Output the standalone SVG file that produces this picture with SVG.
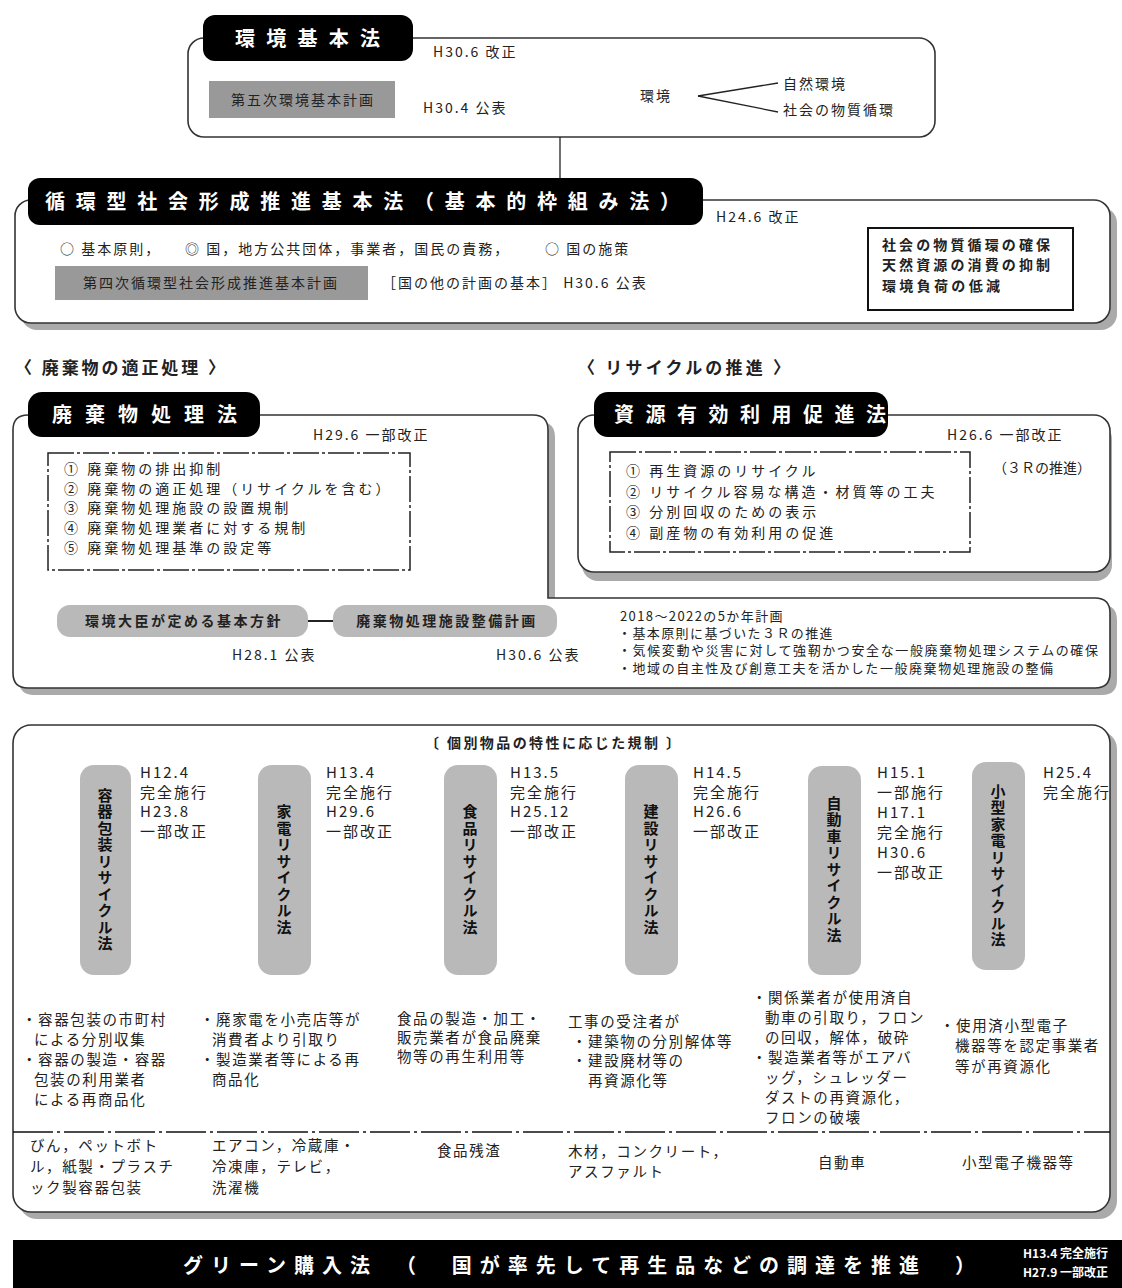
<svg xmlns="http://www.w3.org/2000/svg" width="1122" height="1288" viewBox="0 0 1122 1288">
<style>
text{font-family:"Noto Sans CJK JP","Noto Sans",sans-serif;fill:#222}
.frame{fill:#fff;stroke:#333;stroke-width:1.6}
.shadow{fill:#aaa}
.ttl{fill:#000}
.tt{font-weight:700;fill:#fff;font-size:20px}
.t13{font-size:14px;letter-spacing:2px}
.t12{font-size:13px;letter-spacing:1.4px}
.plan{fill:#999}
.pill{fill:#b9b9b9}
.pt{font-size:15px;font-weight:700;fill:#111;writing-mode:vertical-rl;letter-spacing:1.5px}
.dd{fill:none;stroke:#222;stroke-width:1.5;stroke-dasharray:26 3 3 3}
.li{font-size:14px;letter-spacing:3px}
.dt{font-size:15px;letter-spacing:2px}
.ds{font-size:14.5px;letter-spacing:1.6px}
.hd{font-size:17px;font-weight:700}
.ln{fill:none;stroke:#222;stroke-width:1.3}
.pb{font-size:14px;font-weight:700;letter-spacing:2.5px}
</style>

<!-- 環境基本法 -->
<g id="kankyo-kihonho">
  <rect class="frame" x="188" y="38" width="747" height="99" rx="16"/>
  <rect class="ttl" x="203" y="15" width="210" height="46" rx="12"/>
  <text class="tt" x="235" y="46" textLength="145">環境基本法</text>
  <text class="t13" x="433" y="57">H30.6 改正</text>
  <rect class="plan" x="209" y="81" width="186" height="37"/>
  <text class="t13" x="303" y="105" text-anchor="middle">第五次環境基本計画</text>
  <text class="t13" x="423" y="113">H30.4 公表</text>
  <text class="t13" x="640" y="101">環境</text>
  <text class="t13" x="783" y="89">自然環境</text>
  <text class="t13" x="783" y="115">社会の物質循環</text>
</g>

<!-- 循環型社会形成推進基本法 -->
<g id="junkan-kihonho">
  <rect class="shadow" x="21" y="207" width="1096" height="123" rx="16"/>
  <rect class="frame" x="15" y="200" width="1095" height="123" rx="16"/>
  <rect class="ttl" x="28" y="178" width="675" height="47" rx="12"/>
  <text class="tt" x="45" y="209" textLength="635">循環型社会形成推進基本法（基本的枠組み法）</text>
  <text class="t13" x="716" y="222">H24.6 改正</text>
  <text class="t13" x="60" y="254">○ 基本原則，</text>
  <text class="t13" x="185" y="254">◎ 国，地方公共団体，事業者，国民の責務，</text>
  <text class="t13" x="545" y="254">○ 国の施策</text>
  <rect class="plan" x="55" y="266" width="313" height="34"/>
  <text class="t13" x="211" y="288" text-anchor="middle">第四次循環型社会形成推進基本計画</text>
  <text class="t13" x="382" y="288">［国の他の計画の基本］ H30.6 公表</text>
  <rect x="868" y="228" width="205" height="82" fill="#fff" stroke="#111" stroke-width="2"/>
  <text x="882" y="250" font-size="14" font-weight="700" textLength="168">社会の物質循環の確保</text>
  <text x="882" y="270" font-size="14" font-weight="700" textLength="168">天然資源の消費の抑制</text>
  <text x="882" y="291" font-size="14" font-weight="700" textLength="118">環境負荷の低減</text>
</g>

<text class="hd" x="15" y="374" textLength="210">〈 廃棄物の適正処理 〉</text>
<text class="hd" x="578" y="374" textLength="212">〈 リサイクルの推進 〉</text>

<!-- 廃棄物処理法 -->
<g id="haikibutsu-shoriho">
  <path class="shadow" d="M34,422 H540 Q555,422 555,437 V605 H1102 Q1117,605 1117,620 V680 Q1117,695 1102,695 H34 Q19,695 19,680 V437 Q19,422 34,422 Z"/>
  <path class="frame" d="M28,415 H533 Q548,415 548,430 V598 H1095 Q1110,598 1110,613 V673 Q1110,688 1095,688 H28 Q13,688 13,673 V430 Q13,415 28,415 Z"/>
  <rect class="ttl" x="28" y="392" width="232" height="45" rx="14"/>
  <text class="tt" x="52" y="422" textLength="185">廃棄物処理法</text>
  <text class="t13" x="313" y="440">H29.6 一部改正</text>
  <rect class="dd" x="48" y="453" width="362" height="117"/>
  <text class="li" x="64" y="474">① 廃棄物の排出抑制</text>
  <text class="li" x="64" y="494">② 廃棄物の適正処理（リサイクルを含む）</text>
  <text class="li" x="64" y="513">③ 廃棄物処理施設の設置規制</text>
  <text class="li" x="64" y="533">④ 廃棄物処理業者に対する規制</text>
  <text class="li" x="64" y="553">⑤ 廃棄物処理基準の設定等</text>
</g>

<!-- 資源有効利用促進法 -->
<g id="shigen-yuko-riyo">
  <rect class="shadow" x="582" y="423" width="530" height="158" rx="16"/>
  <rect class="frame" x="578" y="415" width="532" height="157" rx="16"/>
  <rect class="ttl" x="594" y="392" width="294" height="45" rx="14"/>
  <text class="tt" x="614" y="422" textLength="272">資源有効利用促進法</text>
  <text class="t13" x="947" y="440">H26.6 一部改正</text>
  <text class="t13" x="993" y="473" style="letter-spacing:0">（３Ｒの推進）</text>
  <rect class="dd" x="610" y="452" width="360" height="100"/>
  <text class="li" x="626" y="476">① 再生資源のリサイクル</text>
  <text class="li" x="626" y="497">② リサイクル容易な構造・材質等の工夫</text>
  <text class="li" x="626" y="517">③ 分別回収のための表示</text>
  <text class="li" x="626" y="538">④ 副産物の有効利用の促進</text>
</g>

<!-- 基本方針 -->
<g id="kihon-hoshin">
  <rect class="pill" x="57" y="605" width="251" height="32" rx="13"/>
  <text class="pb" x="184" y="626" text-anchor="middle">環境大臣が定める基本方針</text>
  <text class="t13" x="232" y="660">H28.1 公表</text>
</g>
<g id="seibi-keikaku">
  <rect class="pill" x="333" y="605" width="224" height="32" rx="13"/>
  <text class="pb" x="447" y="626" text-anchor="middle">廃棄物処理施設整備計画</text>
  <text class="t13" x="496" y="660">H30.6 公表</text>
</g>
<g id="gokanen">
  <text class="t12" x="620" y="621">2018～2022の5か年計画</text>
  <text class="t12" x="618" y="638">・基本原則に基づいた３Ｒの推進</text>
  <text class="t12" x="618" y="655" textLength="480" style="letter-spacing:0">・気候変動や災害に対して強靭かつ安全な一般廃棄物処理システムの確保</text>
  <text class="t12" x="618" y="673" textLength="435" style="letter-spacing:0">・地域の自主性及び創意工夫を活かした一般廃棄物処理施設の整備</text>
</g>

<!-- 個別リサイクル法 -->
<g id="kobetsu">
  <rect class="shadow" x="19" y="731" width="1098" height="488" rx="18"/>
  <rect class="frame" x="13" y="725" width="1097" height="487" rx="18"/>
  <text x="425" y="748" font-size="14" font-weight="700" textLength="255">〔 個別物品の特性に応じた規制 〕</text>
  <line x1="13" y1="1132" x2="1110" y2="1132" stroke="#111" stroke-width="1.6" stroke-dasharray="40 4 3 4"/>
</g>

<g id="yoki-hoso">
  <rect class="pill" x="80" y="765" width="51" height="210" rx="14"/>
  <text class="pt" x="105" y="870" text-anchor="middle">容器包装リサイクル法</text>
  <text class="dt" x="140" y="778">H12.4</text>
  <text class="dt" x="140" y="798">完全施行</text>
  <text class="dt" x="140" y="817">H23.8</text>
  <text class="dt" x="140" y="837">一部改正</text>
  <text class="ds" x="22" y="1025">・容器包装の市町村</text>
  <text class="ds" x="34" y="1045">による分別収集</text>
  <text class="ds" x="22" y="1065">・容器の製造・容器</text>
  <text class="ds" x="34" y="1085">包装の利用業者</text>
  <text class="ds" x="34" y="1105">による再商品化</text>
  <text class="ds" x="30" y="1151">びん，ペットボト</text>
  <text class="ds" x="30" y="1172">ル，紙製・プラスチ</text>
  <text class="ds" x="30" y="1193">ック製容器包装</text>
</g>

<g id="kaden">
  <rect class="pill" x="258" y="765" width="53" height="210" rx="14"/>
  <text class="pt" x="284" y="870" text-anchor="middle">家電リサイクル法</text>
  <text class="dt" x="326" y="778">H13.4</text>
  <text class="dt" x="326" y="798">完全施行</text>
  <text class="dt" x="326" y="817">H29.6</text>
  <text class="dt" x="326" y="837">一部改正</text>
  <text class="ds" x="200" y="1025">・廃家電を小売店等が</text>
  <text class="ds" x="212" y="1045">消費者より引取り</text>
  <text class="ds" x="200" y="1065">・製造業者等による再</text>
  <text class="ds" x="212" y="1085">商品化</text>
  <text class="ds" x="212" y="1151">エアコン，冷蔵庫・</text>
  <text class="ds" x="212" y="1172">冷凍庫，テレビ，</text>
  <text class="ds" x="212" y="1193">洗濯機</text>
</g>

<g id="shokuhin">
  <rect class="pill" x="444" y="765" width="53" height="210" rx="14"/>
  <text class="pt" x="470" y="870" text-anchor="middle">食品リサイクル法</text>
  <text class="dt" x="510" y="778">H13.5</text>
  <text class="dt" x="510" y="798">完全施行</text>
  <text class="dt" x="510" y="817">H25.12</text>
  <text class="dt" x="510" y="837">一部改正</text>
  <text class="ds" x="397" y="1024">食品の製造・加工・</text>
  <text class="ds" x="397" y="1043">販売業者が食品廃棄</text>
  <text class="ds" x="397" y="1062">物等の再生利用等</text>
  <text class="ds" x="437" y="1156">食品残渣</text>
</g>

<g id="kensetsu">
  <rect class="pill" x="625" y="765" width="53" height="210" rx="14"/>
  <text class="pt" x="651" y="870" text-anchor="middle">建設リサイクル法</text>
  <text class="dt" x="693" y="778">H14.5</text>
  <text class="dt" x="693" y="798">完全施行</text>
  <text class="dt" x="693" y="817">H26.6</text>
  <text class="dt" x="693" y="837">一部改正</text>
  <text class="ds" x="568" y="1027">工事の受注者が</text>
  <text class="ds" x="572" y="1047">・建築物の分別解体等</text>
  <text class="ds" x="572" y="1066">・建設廃材等の</text>
  <text class="ds" x="588" y="1086">再資源化等</text>
  <text class="ds" x="568" y="1157">木材，コンクリート，</text>
  <text class="ds" x="568" y="1177">アスファルト</text>
</g>

<g id="jidosha">
  <rect class="pill" x="808" y="766" width="53" height="209" rx="14"/>
  <text class="pt" x="834" y="870" text-anchor="middle">自動車リサイクル法</text>
  <text class="dt" x="877" y="778">H15.1</text>
  <text class="dt" x="877" y="798">一部施行</text>
  <text class="dt" x="877" y="818">H17.1</text>
  <text class="dt" x="877" y="838">完全施行</text>
  <text class="dt" x="877" y="858">H30.6</text>
  <text class="dt" x="877" y="878">一部改正</text>
  <text class="ds" x="752" y="1003">・関係業者が使用済自</text>
  <text class="ds" x="765" y="1023">動車の引取り，フロン</text>
  <text class="ds" x="765" y="1043">の回収，解体，破砕</text>
  <text class="ds" x="752" y="1063">・製造業者等がエアバ</text>
  <text class="ds" x="765" y="1083">ッグ，シュレッダー</text>
  <text class="ds" x="765" y="1103">ダストの再資源化，</text>
  <text class="ds" x="765" y="1123">フロンの破壊</text>
  <text class="ds" x="818" y="1168">自動車</text>
</g>

<g id="kogata-kaden">
  <rect class="pill" x="972" y="762" width="53" height="208" rx="14"/>
  <text class="pt" x="998" y="866" text-anchor="middle">小型家電リサイクル法</text>
  <text class="dt" x="1043" y="778">H25.4</text>
  <text class="dt" x="1043" y="798">完全施行</text>
  <text class="ds" x="940" y="1031">・使用済小型電子</text>
  <text class="ds" x="955" y="1051">機器等を認定事業者</text>
  <text class="ds" x="955" y="1072">等が再資源化</text>
  <text class="ds" x="962" y="1168">小型電子機器等</text>
</g>

<!-- グリーン購入法 -->
<g id="green">
  <rect x="13" y="1240" width="1109" height="48" fill="#000"/>
  <text class="tt" x="183" y="1273" textLength="792">グリーン購入法　（　国が率先して再生品などの調達を推進　）</text>
  <text x="1023" y="1258" font-size="12" font-weight="700" style="fill:#fff">H13.4 完全施行</text>
  <text x="1023" y="1277" font-size="12" font-weight="700" style="fill:#fff">H27.9 一部改正</text>
</g>

<!-- connectors -->
<g id="connectors">
  <line class="ln" x1="560" y1="137" x2="560" y2="178"/>
  <line class="ln" x1="698" y1="96" x2="778" y2="83"/>
  <line class="ln" x1="698" y1="96" x2="778" y2="112"/>
  <line class="ln" x1="308" y1="621" x2="333" y2="621" style="stroke-width:2"/>
</g>
</svg>
